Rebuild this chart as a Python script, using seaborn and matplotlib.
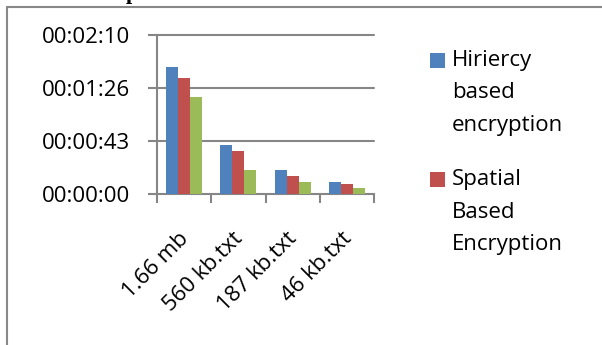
import matplotlib
matplotlib.use("Agg")
import matplotlib.pyplot as plt
import seaborn as sns
import pandas as pd
from matplotlib.transforms import ScaledTranslation
from matplotlib.patches import Rectangle
from matplotlib.lines import Line2D

# ---- data ----
categories = ["1.66 mb", "560 kb.txt", "187 kb.txt", "46 kb.txt"]
series_names = ["Hiriercy\nbased\nencryption", "Spatial\nBased\nEncryption", "Series 3"]
hierarchy_sec = [103.6, 39.5, 19.6, 9.5]
spatial_sec = [94.6, 34.6, 14.4, 7.7]
third_sec = [79.5, 19.6, 9.5, 4.6]
y_tick_values = [0, 130 / 3, 260 / 3, 130]
y_tick_labels = ["00:00:00", "00:00:43", "00:01:26", "00:02:10"]
colors = ["#4F81BD", "#C0504D", "#9BBB59"]

sns.set_theme(style="white")
plt.rcParams["font.family"] = ["Open Sans", "DejaVu Sans"]

W, H = 602, 345
FS = 16
fig = plt.figure(figsize=(W / 100, H / 100), dpi=100)
fig.patch.set_facecolor("white")

ax_left, ax_right, ax_top, ax_bottom = 157, 374, 35, 193.7
ax = fig.add_axes([ax_left / W, (H - ax_bottom) / H, (ax_right - ax_left) / W, (ax_bottom - ax_top) / H])

rows = []
for name, vals in zip(series_names, [hierarchy_sec, spatial_sec, third_sec]):
    for c, v in zip(categories, vals):
        rows.append({"file": c, "seconds": v, "series": name})
df = pd.DataFrame(rows)

sns.barplot(data=df, x="file", y="seconds", hue="series", order=categories,
            hue_order=series_names, palette=colors, width=0.667, saturation=1,
            linewidth=0, legend=False, ax=ax, zorder=3)

grid_color = "#868686"
ax.set_xlim(-0.5, len(categories) - 0.5)
ax.set_ylim(0, y_tick_values[-1])
for v in y_tick_values[1:]:
    ax.axhline(v, color=grid_color, lw=1.5, zorder=1, clip_on=False)

for s in ["top", "right"]:
    ax.spines[s].set_visible(False)
for s in ["left", "bottom"]:
    ax.spines[s].set_color(grid_color)
    ax.spines[s].set_linewidth(1.5)
ax.set_xlabel("")
ax.set_ylabel("")

ax.set_yticks(y_tick_values)
ax.set_yticklabels(y_tick_labels, fontsize=FS, color="black")
ax.tick_params(axis="y", left=True, length=6.5, width=1.5, color=grid_color, direction="out", pad=13)

ax.set_xticks(range(len(categories)))
ax.set_xticklabels(categories, rotation=45, ha="right", va="center",
                   rotation_mode="anchor", fontsize=FS, color="black")
ax.tick_params(axis="x", which="major", bottom=True, length=0, pad=0)
ax.set_xticks([i - 0.5 for i in range(len(categories) + 1)], minor=True)
ax.tick_params(axis="x", which="minor", bottom=True, length=6.5, width=1.5, color=grid_color, direction="out")
off = ScaledTranslation(1.5 / 100, -42 / 100, fig.dpi_scale_trans)
for lbl in ax.get_xticklabels():
    lbl.set_transform(lbl.get_transform() + off)

# legend (first two series, as in the reference)
leg_items = [(series_names[0], colors[0], 52.7), (series_names[1], colors[1], 172)]
for label, col, ytop in leg_items:
    fig.add_artist(Rectangle((430 / W, 1 - (ytop + 15) / H), 15 / W, 15 / H,
                             transform=fig.transFigure, facecolor=col, edgecolor="none"))
    fig.text(452 / W, 1 - (ytop - 3) / H, label, fontsize=FS, va="top", ha="left",
             linespacing=1.72, color="black")

# outer frame (top and left edges visible)
frame_col = "#888888"
fig.add_artist(Line2D([7 / W, 7 / W], [0, 1 - 6.5 / H], transform=fig.transFigure, color=frame_col, lw=1.5))
fig.add_artist(Line2D([7 / W, 1], [1 - 6.5 / H, 1 - 6.5 / H], transform=fig.transFigure, color=frame_col, lw=1.5))

# clipped title fragment at the very top
fig.text(132 / W, 1 + 1 / H, "p", fontfamily="Liberation Serif", fontweight="bold",
         fontsize=16, ha="center", va="baseline", color="black")

fig.savefig("out.png", dpi=100)
